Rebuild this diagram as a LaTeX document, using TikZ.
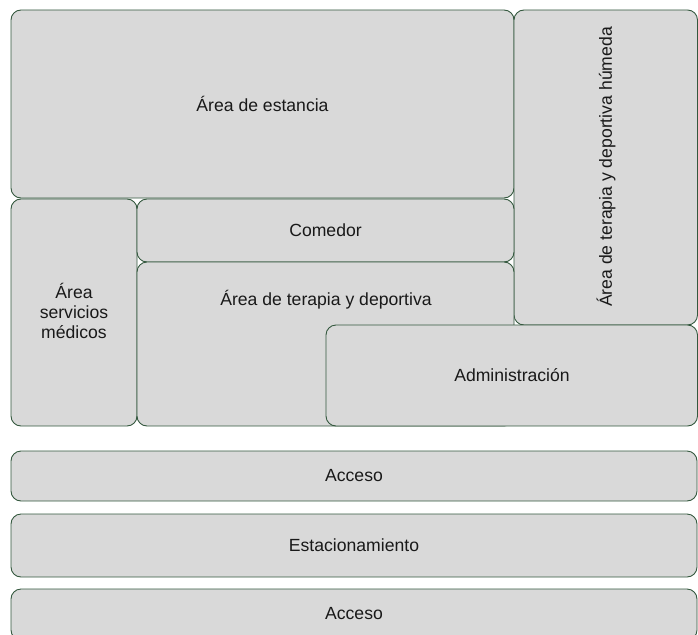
\documentclass[tikz,border=0pt]{standalone}
\usepackage{fontspec}
\setmainfont{Liberation Sans}
\definecolor{borde}{RGB}{52,88,62}
\definecolor{relleno}{RGB}{217,217,217}
\tikzset{
	sala/.style={draw=borde,fill=relleno,line width=0.9pt,rounded corners=10pt},
	rotulo/.style={font=\fontsize{17.6}{20}\selectfont,align=center,text=black!90}
}
\begin{document}
\begin{tikzpicture}[x=1pt,y=-1pt]
		\useasboundingbox (0,0) rectangle (698,634);
		%Bloque superior
		\draw[sala] (11,10) rectangle (514,198);
		\draw[sala] (514,10) rectangle (697.5,325);
		\node[rotulo](estancia) at (262.5,104) {Área de estancia};
		\node[rotulo,rotate=90](humeda) at (606,167) {Área de terapia y deportiva húmeda};
		%Bloque medio
		\draw[sala] (11,199) rectangle (137,426);
		\draw[sala] (137,199) rectangle (514,262);
		\draw[sala] (137,262) rectangle (514,426);
		\draw[sala] (326,325) rectangle (697.5,426);
		\node[rotulo](medicos) at (74,311) {Área\\servicios\\médicos};
		\node[rotulo](comedor) at (325.5,230.5) {Comedor};
		\node[rotulo](terapia) at (326,300) {Área de terapia y deportiva};
		\node[rotulo](admin) at (512,375.5) {Administración};
		%Franjas inferiores
		\draw[sala] (11,451) rectangle (697,501);
		\draw[sala] (11,514) rectangle (697,577);
		\draw[sala] (11,589) rectangle (697,640);
		\node[rotulo](acceso1) at (354,476) {Acceso};
		\node[rotulo](estacion) at (354,545.5) {Estacionamiento};
		\node[rotulo](acceso2) at (354,614) {Acceso};
	\end{tikzpicture}
\end{document}
